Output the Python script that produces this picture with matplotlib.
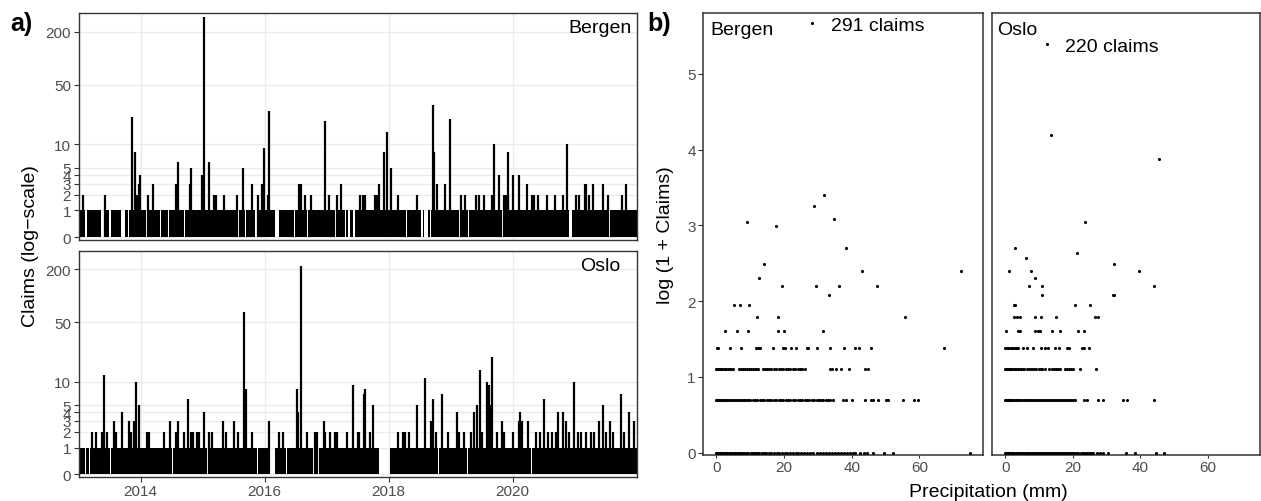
import numpy as np
import matplotlib
matplotlib.use("Agg")
import matplotlib.pyplot as plt

plt.rcParams['font.family'] = ['Liberation Sans', 'DejaVu Sans']

# ---------------- panel a: daily claims ----------------
year_ticks = [2014, 2016, 2018, 2020]
claim_ticks = [0, 1, 2, 3, 4, 5, 10, 50, 200]

# days with 2 or more claims (decimal year, claims)
bergen_spike_year = [2013.075, 2013.430, 2013.860, 2013.913, 2013.946, 2013.967, 2013.994,
                     2014.112, 2014.193, 2014.569, 2014.596, 2014.790, 2014.811, 2014.989,
                     2015.016, 2015.096, 2015.177, 2015.215, 2015.349, 2015.548, 2015.645,
                     2015.795, 2015.892, 2015.951, 2015.983, 2016.048, 2016.069, 2016.559,
                     2016.591, 2016.645, 2016.747, 2016.978, 2017.042, 2017.166, 2017.231,
                     2017.537, 2017.581, 2017.624, 2017.774, 2017.806, 2017.838, 2017.919,
                     2017.968, 2018.032, 2018.145, 2018.452, 2018.710, 2018.731, 2018.774,
                     2018.903, 2018.994, 2019.166, 2019.236, 2019.408, 2019.452, 2019.543,
                     2019.671, 2019.694, 2019.784, 2019.865, 2019.892, 2019.919, 2019.930,
                     2020.000, 2020.107, 2020.226, 2020.306, 2020.339, 2020.403, 2020.559,
                     2020.688, 2020.806, 2020.871, 2021.021, 2021.065, 2021.161, 2021.183,
                     2021.236, 2021.290, 2021.452, 2021.543, 2021.758, 2021.828]
bergen_spike_claims = [2, 2, 21, 8, 2, 3, 4,
                       2, 3, 3, 6, 3, 5, 4,
                       291, 6, 2, 2, 2, 2, 5,
                       3, 2, 3, 9, 2, 25, 3,
                       3, 2, 2, 19, 2, 2, 3,
                       2, 2, 2, 2, 2, 3, 8,
                       14, 5, 2, 2, 29, 8, 3,
                       3, 20, 2, 2, 2, 2, 2,
                       2, 10, 4, 2, 2, 2, 8,
                       4, 4, 3, 2, 2, 2, 2,
                       2, 2, 10, 2, 2, 3, 3,
                       2, 3, 3, 2, 2, 3]
# stretches with no claims at all (white gaps in the band)
bergen_zero_runs = [(2013.066, 2013.080), (2013.106, 2013.129), (2013.365, 2013.420),
                    (2013.487, 2013.516), (2013.690, 2013.742), (2013.793, 2013.807),
                    (2014.087, 2014.101), (2014.203, 2014.217), (2014.320, 2014.334),
                    (2014.437, 2014.451), (2014.699, 2014.713), (2014.903, 2014.917),
                    (2015.573, 2015.587), (2015.690, 2015.704), (2015.777, 2015.791),
                    (2015.840, 2015.879), (2016.170, 2016.226), (2016.477, 2016.491),
                    (2016.682, 2016.696), (2017.137, 2017.151), (2017.293, 2017.307),
                    (2017.344, 2017.376), (2017.425, 2017.460), (2017.614, 2017.628),
                    (2018.022, 2018.036), (2018.285, 2018.299), (2018.401, 2018.415),
                    (2018.521, 2018.550), (2018.574, 2018.629), (2018.664, 2018.678),
                    (2018.898, 2018.912), (2019.130, 2019.144), (2019.277, 2019.291),
                    (2019.538, 2019.552), (2019.830, 2019.844), (2020.913, 2020.952),
                    (2021.551, 2021.565)]

oslo_spike_year = [2013.215, 2013.279, 2013.376, 2013.408, 2013.451, 2013.575, 2013.602,
                   2013.698, 2013.817, 2013.844, 2013.897, 2013.924, 2013.967, 2014.096,
                   2014.129, 2014.370, 2014.467, 2014.569, 2014.607, 2014.704, 2014.763,
                   2014.811, 2014.838, 2014.903, 2014.935, 2015.016, 2015.096, 2015.150,
                   2015.322, 2015.376, 2015.505, 2015.564, 2015.661, 2015.698, 2015.795,
                   2016.064, 2016.236, 2016.290, 2016.516, 2016.537, 2016.591, 2016.682,
                   2016.806, 2016.849, 2016.956, 2016.978, 2017.053, 2017.134, 2017.166,
                   2017.322, 2017.430, 2017.500, 2017.526, 2017.607, 2017.623, 2017.699,
                   2017.742, 2018.145, 2018.226, 2018.263, 2018.333, 2018.452, 2018.591,
                   2018.683, 2018.720, 2018.763, 2018.860, 2018.952, 2019.097, 2019.129,
                   2019.220, 2019.328, 2019.371, 2019.419, 2019.473, 2019.505, 2019.591,
                   2019.613, 2019.639, 2019.666, 2019.742, 2019.823, 2019.865, 2020.000,
                   2020.097, 2020.118, 2020.150, 2020.247, 2020.376, 2020.446, 2020.510,
                   2020.565, 2020.634, 2020.699, 2020.726, 2020.817, 2020.860, 2020.914,
                   2020.989, 2021.048, 2021.102, 2021.183, 2021.263, 2021.317, 2021.387,
                   2021.452, 2021.505, 2021.570, 2021.613, 2021.747, 2021.800, 2021.882,
                   2021.962]
oslo_spike_claims = [2, 2, 2, 12, 2, 3, 2,
                     4, 3, 2, 3, 10, 5, 2,
                     2, 2, 3, 2, 3, 2, 6,
                     2, 2, 2, 2, 4, 2, 2,
                     3, 2, 3, 2, 65, 8, 2,
                     3, 2, 2, 8, 4, 220, 2,
                     2, 2, 3, 2, 2, 2, 2,
                     2, 9, 2, 2, 7, 8, 2,
                     5, 2, 2, 2, 2, 5, 11,
                     3, 6, 2, 7, 2, 4, 2,
                     2, 2, 4, 5, 14, 2, 10,
                     9, 5, 20, 2, 3, 2, 2,
                     3, 4, 3, 3, 2, 2, 6,
                     2, 2, 2, 4, 4, 3, 2,
                     10, 2, 2, 2, 2, 2, 3,
                     5, 2, 3, 2, 7, 2, 4,
                     3]
oslo_zero_runs = [(2013.100, 2013.115), (2013.170, 2013.185), (2013.510, 2013.525),
                  (2014.513, 2014.527), (2015.078, 2015.092), (2015.273, 2015.287),
                  (2015.873, 2015.887), (2016.085, 2016.166), (2016.348, 2016.362),
                  (2016.783, 2016.797), (2016.868, 2016.882), (2017.111, 2017.125),
                  (2017.256, 2017.270), (2017.498, 2017.512), (2017.844, 2018.015),
                  (2018.353, 2018.367), (2018.573, 2018.587), (2018.803, 2018.817),
                  (2019.263, 2019.277), (2020.303, 2020.317)]

# ---------------- panel b: claims against precipitation ----------------
precip_ticks = [0, 20, 40, 60]
logclaim_ticks = [0, 1, 2, 3, 4, 5]

bergen_rain_0 = [0, 0.1, 0.2, 0.3, 0.5, 0.7, 0.9, 1.2, 1.5, 1.8, 2.1, 2.5, 2.9, 3.3, 3.7, 4.1,
                 4.6, 5.1, 5.6, 6.1, 6.6, 7.1, 7.7, 8.3, 8.9, 9.5, 10.1, 10.7, 11.3, 12.0, 12.7,
                 13.4, 14.1, 14.8, 15.5, 16.2, 17.0, 17.8, 18.6, 19.4, 20.2, 21.0, 21.8, 22.6,
                 23.4, 24.2, 25.1, 26.0, 26.9, 27.8, 28.7, 29.6, 30.5, 31.4, 32.3, 33.2, 34.1,
                 35.0, 35.9, 36.8, 37.7, 38.6, 39.5, 40.4, 40.9, 42.4, 43.6, 44.6, 46.3, 49.6,
                 52.2, 75.0]
bergen_rain_1 = [0, 0.1, 0.2, 0.4, 0.6, 0.9, 1.2, 1.5, 1.9, 2.3, 2.7, 3.1, 3.6, 4.1, 4.6, 5.1,
                 5.7, 6.3, 6.9, 7.5, 8.1, 8.7, 9.3, 10.0, 10.7, 11.4, 12.1, 12.8, 13.5, 14.2,
                 14.9, 15.6, 16.3, 17.0, 17.7, 18.4, 19.1, 19.8, 20.5, 21.2, 21.9, 22.6, 23.3,
                 24.0, 24.7, 25.4, 26.1, 26.8, 27.5, 28.2, 28.9, 29.6, 30.3, 30.9, 31.6, 32.3,
                 33.0, 33.7, 34.4, 37.4, 38.4, 40.2, 43.8, 45.6, 46.3, 47.8, 50.0, 50.8, 55.2,
                 58.3, 59.6]
bergen_rain_2 = [0, 0.2, 0.4, 0.7, 1.0, 1.4, 1.8, 2.2, 2.6, 3.0, 3.4, 3.9, 4.4, 5.0, 6.7, 7.3,
                 7.9, 8.5, 9.1, 9.7, 10.3, 10.9, 11.3, 11.8, 12.3, 13.8, 14.4, 15.0, 15.6, 16.3,
                 17.0, 17.7, 18.4, 19.1, 19.8, 20.5, 21.2, 21.9, 22.6, 23.3, 24.0, 24.7, 25.4,
                 26.1, 33.6, 34.3, 35.4, 36.7, 39.1, 43.8, 44.8]
bergen_hi_rain = [0.2, 0.4, 3.9, 7.2, 11.7, 12.3, 13.0, 16.7, 19.7, 20.2, 22.1, 23.4, 26.9,
                  27.2, 29.8, 33.6, 37.8, 41.0, 42.1, 45.7, 67.3,
                  2.7, 6.0, 9.4, 18.1, 20.0, 31.6,
                  12.1, 18.1, 55.7,
                  5.3, 6.9, 9.6,
                  33.4,
                  19.5, 29.5, 36.2, 47.6,
                  12.6, 42.9, 72.2, 14.1, 38.4, 17.5, 9.2, 34.7, 28.8, 31.9, 28.4]
bergen_hi_claims = [3, 3, 3, 3, 3, 3, 3, 3, 3, 3, 3, 3, 3,
                    3, 3, 3, 3, 3, 3, 3, 3,
                    4, 4, 4, 4, 4, 4,
                    5, 5, 5,
                    6, 6, 6,
                    7,
                    8, 8, 8, 8,
                    9, 10, 10, 11, 14, 19, 20, 21, 25, 29, 291]

oslo_rain_0 = [0, 0.1, 0.2, 0.3, 0.5, 0.7, 0.9, 1.1, 1.4, 1.7, 2.0, 2.3, 2.7, 3.1, 3.5, 3.9,
               4.3, 4.8, 5.3, 5.8, 6.3, 6.8, 7.3, 7.9, 8.5, 9.1, 9.7, 10.3, 10.9, 11.5, 12.1,
               12.7, 13.3, 13.9, 14.5, 15.1, 15.7, 16.3, 16.9, 17.5, 18.1, 18.7, 19.3, 19.9,
               20.5, 21.1, 21.7, 22.3, 22.9, 23.5, 24.1, 24.7, 25.3, 26.1, 27.1, 28.1, 29.1,
               30.3, 35.7, 38.5, 44.6, 47.0]
oslo_rain_1 = [0, 0.1, 0.2, 0.4, 0.6, 0.8, 1.1, 1.4, 1.7, 2.0, 2.4, 2.8, 3.2, 3.6, 4.0, 4.5,
               5.0, 5.5, 6.0, 6.5, 7.0, 7.6, 8.2, 8.8, 9.4, 10.0, 10.6, 11.2, 11.8, 12.4, 13.0,
               13.6, 14.2, 14.8, 15.4, 16.0, 16.6, 17.2, 17.8, 18.4, 19.0, 19.6, 20.2, 20.7,
               23.4, 24.2, 27.6, 29.1, 35.0, 36.2, 44.1]
oslo_rain_2 = [0, 0.2, 0.4, 0.7, 1.0, 1.3, 1.7, 2.1, 2.5, 2.9, 3.3, 3.7, 4.2, 4.7, 5.2, 5.5,
               6.5, 7.0, 7.5, 8.0, 8.5, 9.0, 10.0, 10.5, 11.0, 11.8, 13.1, 13.7, 14.3, 14.9,
               15.5, 16.3, 17.8, 18.4, 19.0, 19.6, 20.2, 22.0, 26.9]
oslo_hi_rain = [0, 0.4, 0.8, 1.2, 1.6, 2.0, 2.4, 2.8, 3.2, 3.6, 3.9, 5.4, 6.4, 8.2, 10.7,
                11.8, 12.8, 14.8, 15.8, 18.2, 19.0, 22.6, 23.4, 24.7,
                0.3, 3.9, 4.4, 8.9, 9.6, 10.2, 13.7, 16.3, 21.7, 23.2,
                2.5, 3.5, 4.4, 8.8, 10.7, 15.0, 26.6, 27.6,
                2.5, 3.0, 20.6, 25.0,
                10.9, 31.9, 32.2,
                6.9, 10.9, 44.1,
                8.7, 1.2, 7.6, 39.6, 32.3, 6.2, 21.2, 2.8, 23.5, 45.5, 13.6, 12.3]
oslo_hi_claims = [3, 3, 3, 3, 3, 3, 3, 3, 3, 3, 3, 3, 3, 3, 3,
                  3, 3, 3, 3, 3, 3, 3, 3, 3,
                  4, 4, 4, 4, 4, 4, 4, 4, 4, 4,
                  5, 5, 5, 5, 5, 5, 5, 5,
                  6, 6, 6, 6,
                  7, 7, 7,
                  8, 8, 8,
                  9, 10, 10, 10, 11, 12, 13, 14, 20, 47, 65, 220]

BORDER = '#333333'
TICKTXT = '#4D4D4D'


def band_steps(zero_runs, start=2013.0, end=2022.0):
    # baseline sits at 0/1 claims, with white gaps where nothing was reported
    edges, levels = [start], [1]
    for a, b in zero_runs:
        edges += [a, b]
        levels += [0, 1]
    edges.append(end)
    levels.append(1)
    return np.array(edges), np.log1p(levels)


def draw_series(ax, spike_year, spike_claims, zero_runs, city, show_x):
    ax.grid(color='#EBEBEB', lw=1.0)
    ax.set_axisbelow(True)
    edges, lv = band_steps(zero_runs)
    ax.fill_between(edges, 0, lv, step='post', color='black', lw=0, zorder=2)
    ax.vlines(spike_year, 0, np.log1p(spike_claims), color='black', lw=1.6, zorder=3)
    ax.set_xlim(2013.0, 2022.0)
    ax.set_ylim(-0.062, 5.773)
    ax.set_yticks(np.log1p(claim_ticks))
    ax.set_yticklabels([str(c) for c in claim_ticks])
    ax.set_xticks(year_ticks)
    ax.set_xticklabels([str(y) for y in year_ticks])
    ax.tick_params(axis='both', colors=BORDER, labelcolor=TICKTXT, labelsize=11,
                   length=3.5, width=0.8, pad=2)
    if not show_x:
        ax.tick_params(axis='x', bottom=False, labelbottom=False)
    for s in ax.spines.values():
        s.set_color(BORDER)
        s.set_linewidth(1.0)
    ax.text(2021.41, 5.28, city, ha='center', va='baseline', fontsize=14)


def draw_scatter(ax, rain0, rain1, rain2, hi_rain, hi_claims, city, city_x, xmax, show_y):
    rain = rain0 + rain1 + rain2 + hi_rain
    claims = [0] * len(rain0) + [1] * len(rain1) + [2] * len(rain2) + hi_claims
    ax.scatter(rain, np.log1p(claims), s=5, color='black', lw=0, zorder=3)
    top = int(np.argmax(hi_claims))
    ax.text(hi_rain[top] + 5.45, np.log1p(hi_claims[top]) - 0.093,
            f"{hi_claims[top]} claims", fontsize=14, va='baseline', ha='left')
    ax.text(city_x, 5.527, city, fontsize=14, va='baseline', ha='left')
    ax.set_xlim(-3.85, xmax)
    ax.set_ylim(-0.03, 5.80)
    ax.set_xticks(precip_ticks)
    ax.set_yticks(logclaim_ticks)
    ax.tick_params(axis='both', colors=BORDER, labelcolor=TICKTXT, labelsize=11,
                   length=3.5, width=0.8, pad=2)
    ax.tick_params(axis='x', length=2.2, pad=1.5)
    if not show_y:
        ax.tick_params(axis='y', left=False, labelleft=False)
    for s in ax.spines.values():
        s.set_color(BORDER)
        s.set_linewidth(1.1)


fig = plt.figure(figsize=(12.61, 5.02), dpi=100)

ax_b = fig.add_axes([0.06233, 0.52052, 0.44259, 0.45100])
ax_o = fig.add_axes([0.06233, 0.04841, 0.44259, 0.44900])
draw_series(ax_b, bergen_spike_year, bergen_spike_claims, bergen_zero_runs, 'Bergen', False)
draw_series(ax_o, oslo_spike_year, oslo_spike_claims, oslo_zero_runs, 'Oslo', True)

ax_pb = fig.add_axes([0.55773, 0.09163, 0.22157, 0.87988])
ax_po = fig.add_axes([0.78691, 0.09163, 0.21229, 0.87988])
draw_scatter(ax_pb, bergen_rain_0, bergen_rain_1, bergen_rain_2, bergen_hi_rain,
             bergen_hi_claims, 'Bergen', -1.8, 78.7, True)
draw_scatter(ax_po, oslo_rain_0, oslo_rain_1, oslo_rain_2, oslo_hi_rain,
             oslo_hi_claims, 'Oslo', -2.4, 75.5, False)

fig.text(0.0238, 0.51, 'Claims (log\u2212scale)', rotation=90, ha='center', va='center',
         fontsize=14)
fig.text(0.5277, 0.532, 'log (1 + Claims)', rotation=90, ha='center', va='center',
         fontsize=14)
fig.text(0.7835, 0.009, 'Precipitation (mm)', ha='center', va='baseline', fontsize=14)
fig.text(0.0079, 0.938, 'a)', fontsize=18, fontweight='bold', va='baseline')
fig.text(0.5133, 0.938, 'b)', fontsize=18, fontweight='bold', va='baseline')

fig.savefig('out.png', dpi=100)
